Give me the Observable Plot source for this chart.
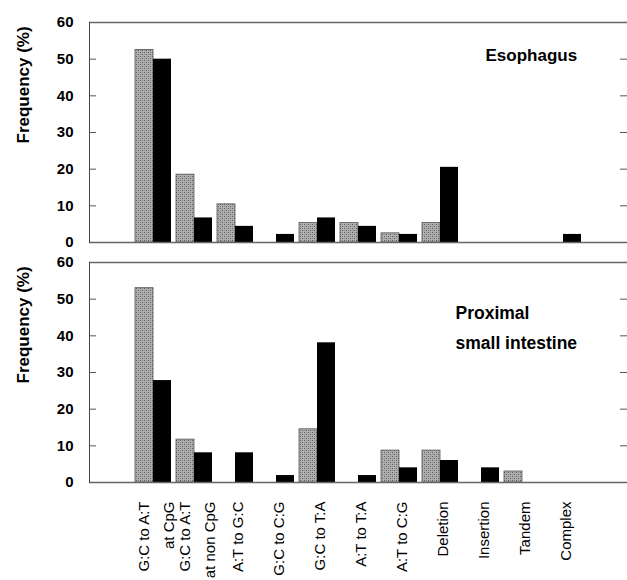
<!DOCTYPE html>
<html><head><meta charset="utf-8">
<script src="https://cdn.jsdelivr.net/npm/d3@7"></script>
<script src="https://cdn.jsdelivr.net/npm/@observablehq/plot@0.6"></script>
<style>body{margin:0;background:#fff}</style>
</head><body><div id="chart"></div>
<script>
const categories = ["G:C to A:T\nat CpG", "G:C to A:T\nat non CpG", "A:T to G:C", "G:C to C:G", "G:C to T:A", "A:T to T:A", "A:T to C:G", "Deletion", "Insertion", "Tandem", "Complex"];
const panels = ["Esophagus", "Proximal\nsmall intestine"];
const esophagusGray  = [52.5, 18.5, 10.4, 0, 5.3, 5.3, 2.5, 5.3, 0, 0, 0];
const esophagusBlack = [50.0, 6.7, 4.4, 2.2, 6.7, 4.4, 2.2, 20.5, 0, 0, 2.2];
const intestineGray  = [53.0, 11.7, 0, 0, 14.5, 0, 8.7, 8.7, 0, 3.0, 0];
const intestineBlack = [27.8, 8.1, 8.1, 1.9, 38.1, 1.9, 4.0, 6.0, 4.0, 0, 0];
const yTicks = [0, 10, 20, 30, 40, 50, 60];
const innerTicks = [10, 20, 30, 40, 50];

const rows = [];
[[panels[0], esophagusGray, esophagusBlack], [panels[1], intestineGray, intestineBlack]].forEach(([p, g, b]) => {
  categories.forEach((c, i) => {
    rows.push({panel: p, category: c, series: "gray", value: g[i]});
    rows.push({panel: p, category: c, series: "black", value: b[i]});
  });
});
const grayRows = rows.filter(d => d.series === "gray" && d.value > 0);
const blackRows = rows.filter(d => d.series === "black" && d.value > 0);

const chart = Plot.plot({
  width: 627,
  height: 580,
  marginTop: 22,
  marginBottom: 98,
  marginLeft: 89,
  marginRight: 0,
  style: {fontFamily: "'Liberation Sans', Arial, sans-serif", background: "#fff", color: "#000"},
  x: {domain: categories, paddingInner: 0.133, paddingOuter: 1.06, axis: null},
  y: {domain: [0, 60]},
  fy: {domain: panels, paddingInner: 20 / 240, paddingOuter: 0, axis: null},
  marks: [
    Plot.barY(grayRows, {fy: "panel", x: "category", y: "value", fill: "url(#stip)", stroke: "#555", strokeWidth: 0.8, insetRight: 18}),
    Plot.barY(blackRows, {fy: "panel", x: "category", y: "value", fill: "#000", insetLeft: 18}),
    Plot.ruleY([0, 60], {stroke: "#666", strokeWidth: 1.3}),
    Plot.frame({anchor: "left", stroke: "#444", strokeWidth: 1}),
    Plot.ruleY(innerTicks, {stroke: "#555", insetRight: 531}),
    Plot.ruleY(innerTicks, {stroke: "#555", insetLeft: 531}),
    Plot.axisY(yTicks, {anchor: "left", tickSize: 0, tickPadding: 16, fontSize: 15, fontWeight: "bold", label: null}),
    Plot.text(panels, {fy: d => d, text: () => "Frequency (%)", frameAnchor: "left", dx: -66, dy: 11, rotate: -90, fontSize: 17, fontWeight: "bold"}),
    Plot.text([panels[0]], {fy: d => d, text: d => d, frameAnchor: "top-left", dx: 396, dy: 26, textAnchor: "start", fontSize: 17, fontWeight: "bold"}),
    Plot.text([panels[1]], {fy: d => d, text: d => d, frameAnchor: "top-left", dx: 366, dy: 35, textAnchor: "start", fontSize: 17.5, fontWeight: "bold", lineHeight: 30 / 17.5}),
    Plot.text(categories, {fy: () => panels[1], x: d => d, text: d => d, frameAnchor: "bottom", dy: 19, rotate: -90, textAnchor: "end", lineAnchor: "middle", lineHeight: 1.65, fontSize: 15})
  ]
});

const defs = d3.select(chart).insert("defs", ":first-child");
const pat = defs.append("pattern").attr("id", "stip").attr("patternUnits", "userSpaceOnUse").attr("width", 4).attr("height", 4);
pat.append("rect").attr("width", 4).attr("height", 4).attr("fill", "#b0b0b0");
pat.append("rect").attr("x", 0).attr("y", 0).attr("width", 1).attr("height", 1).attr("fill", "#5a5a5a");
pat.append("rect").attr("x", 2).attr("y", 2).attr("width", 1).attr("height", 1).attr("fill", "#5a5a5a");
pat.append("rect").attr("x", 2).attr("y", 0).attr("width", 1).attr("height", 1).attr("fill", "#8a8a8a");
pat.append("rect").attr("x", 0).attr("y", 2).attr("width", 1).attr("height", 1).attr("fill", "#8a8a8a");

document.getElementById("chart").appendChild(chart);
</script>
</body></html>
